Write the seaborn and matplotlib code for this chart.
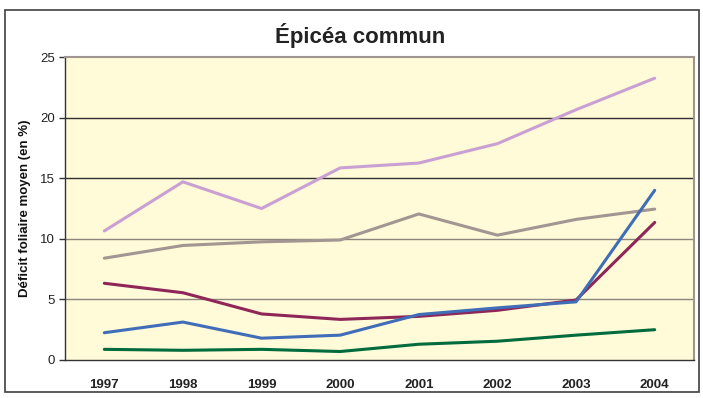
import matplotlib
matplotlib.use("Agg")
import matplotlib.pyplot as plt
from matplotlib.patches import Rectangle
import numpy as np
import pandas as pd
import seaborn as sns

years = ["1997", "1998", "1999", "2000", "2001", "2002", "2003", "2004"]
serie_lilas = [10.65, 14.7, 12.5, 15.85, 16.25, 17.85, 20.65, 23.25]
serie_grise = [8.4, 9.45, 9.75, 9.9, 12.05, 10.3, 11.6, 12.45]
serie_bordeaux = [6.33, 5.55, 3.8, 3.35, 3.6, 4.1, 4.95, 11.35]
serie_bleue = [2.25, 3.13, 1.8, 2.05, 3.75, 4.3, 4.8, 14.0]
serie_verte = [0.88, 0.8, 0.88, 0.7, 1.3, 1.55, 2.05, 2.5]

series = {
    "lilas": serie_lilas,
    "grise": serie_grise,
    "bordeaux": serie_bordeaux,
    "bleue": serie_bleue,
    "verte": serie_verte,
}
palette = {
    "lilas": "#C9A0D3",
    "grise": "#A39591",
    "bordeaux": "#8E2658",
    "bleue": "#3F6DB8",
    "verte": "#006B3C",
}

df = pd.DataFrame(
    [(i, v, name) for name, vals in series.items() for i, v in enumerate(vals)],
    columns=["pos", "valeur", "serie"],
)

sns.set_theme(style="white")
plt.rcParams["font.family"] = ["Liberation Sans", "DejaVu Sans"]

fig = plt.figure(figsize=(7.03, 3.98), dpi=100)
fig.patch.set_facecolor("white")
# chart frame around the whole figure
fig.patches.append(Rectangle((5 / 703, 1 - 392 / 398), 694 / 703, 382 / 398,
                             transform=fig.transFigure, fill=False,
                             edgecolor="#404040", linewidth=1.2))

ax = fig.add_axes([65 / 703, 1 - 360 / 398, 629 / 703, 303 / 398])
ax.set_facecolor("#FFFAD7")

# horizontal gridlines
for yv, col in [(20, "#303030"), (15, "#303030"), (10, "#8C8580"), (5, "#8C8580")]:
    ax.axhline(yv, color=col, linewidth=1.0, zorder=1)

sns.lineplot(data=df, x="pos", y="valeur", hue="serie", palette=palette,
             linewidth=2.2, legend=False, ax=ax, zorder=3)

ax.set_xlim(-0.5, len(years) - 0.5)
ax.set_ylim(0, 25)
ax.set_yticks([0, 5, 10, 15, 20, 25])
ax.set_yticklabels(["0", "5", "10", "15", "20", "25"], fontsize=9.5, color="#222222")
ax.set_xticks(range(len(years)))
ax.set_xticklabels(years, fontsize=9.5, fontweight="bold", color="#222222")
ax.set_xticks(np.arange(-0.5, len(years)), minor=True)
ax.tick_params(axis="x", which="major", length=0, pad=14)
ax.tick_params(axis="x", which="minor", length=5, width=1, color="#333333", direction="out")
ax.tick_params(axis="y", length=4, width=1, color="#333333", direction="out", pad=3, left=True)

ax.set_xlabel("")
ax.set_ylabel("Déficit foliaire moyen (en %)", fontsize=9.5, fontweight="bold",
              color="#111111", labelpad=7)

for side in ["top", "right"]:
    ax.spines[side].set_color("#A09590")
    ax.spines[side].set_linewidth(1.5)
for side in ["left", "bottom"]:
    ax.spines[side].set_color("#333333")
    ax.spines[side].set_linewidth(1.0)

fig.text(360 / 703, 1 - 36 / 398, "Épicéa commun", ha="center", va="center",
         fontsize=16, fontweight="bold", color="#222222")

fig.savefig("out.png", dpi=100)
